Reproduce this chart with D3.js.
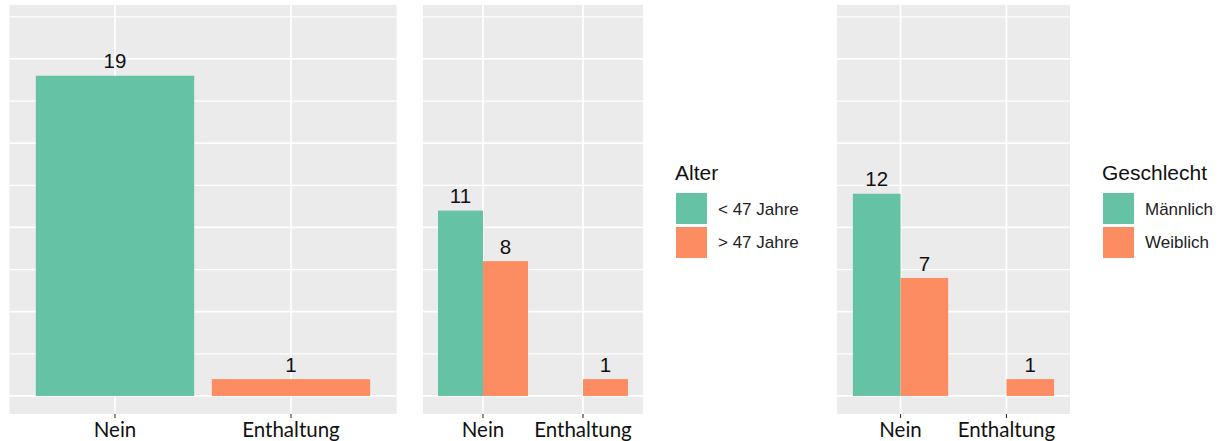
<!DOCTYPE html>
<html>
<head>
<meta charset="utf-8">
<script src="https://cdn.jsdelivr.net/npm/d3@7"></script>
<style>
  html, body { margin: 0; padding: 0; background: #ffffff; }
  svg { display: block; }
</style>
</head>
<body>
<svg id="chart" width="1220" height="441"></svg>
<script>
// ---------- data ----------
const categories = ["Nein", "Enthaltung"];
const totalValues = [19, 1];

const alterTitle = "Alter";
const alterGroups = ["< 47 Jahre", "> 47 Jahre"];
const alterYoung = [11, null];
const alterOld = [8, 1];

const geschlechtTitle = "Geschlecht";
const geschlechtGroups = ["Männlich", "Weiblich"];
const geschlechtMale = [12, null];
const geschlechtFemale = [7, 1];

const majorTicks = [0, 5, 10, 15, 20];
const minorTicks = [2.5, 7.5, 12.5, 17.5, 22.5];

// ---------- style / layout ----------
const green = "#66c2a5", orange = "#fc8d62";
const panelBg = "#ebebeb";
const svg = d3.select("#chart");

const yDomain = [-1.07, 23.2];
const panelTop = 5, panelBottom = 414;

const panels = [
  { x0: 9.4, x1: 396.6 },
  { x0: 423, x1: 643 },
  { x0: 837, x1: 1070 }
];

function drawPanel(p, seriesList, dodge) {
  const x = d3.scalePoint().domain(categories).range([p.x0, p.x1]).padding(0.6);
  const y = d3.scaleLinear().domain(yDomain).range([panelBottom, panelTop]);
  const g = svg.append("g");

  g.append("rect")
    .attr("x", p.x0).attr("y", panelTop)
    .attr("width", p.x1 - p.x0).attr("height", panelBottom - panelTop)
    .attr("fill", panelBg);

  g.selectAll(".minor").data(minorTicks).join("line")
    .attr("x1", p.x0).attr("x2", p.x1)
    .attr("y1", d => y(d)).attr("y2", d => y(d))
    .attr("stroke", "#fff").attr("stroke-width", 1.2);
  g.selectAll(".major").data(majorTicks).join("line")
    .attr("x1", p.x0).attr("x2", p.x1)
    .attr("y1", d => y(d)).attr("y2", d => y(d))
    .attr("stroke", "#fff").attr("stroke-width", 1.7);
  g.selectAll(".vgrid").data(categories).join("line")
    .attr("x1", d => x(d)).attr("x2", d => x(d))
    .attr("y1", panelTop).attr("y2", panelBottom)
    .attr("stroke", "#fff").attr("stroke-width", 1.7);

  const step = x.step();
  const barW = 0.9 * step;
  const nSeries = seriesList.length;
  const subW = dodge ? barW / nSeries : barW;

  seriesList.forEach((s, si) => {
    categories.forEach((c, ci) => {
      const v = s.values[ci];
      if (v == null) return;
      const left = dodge ? x(c) - barW / 2 + si * subW : x(c) - barW / 2;
      const color = s.colors ? s.colors[ci] : s.color;
      g.append("rect")
        .attr("x", left).attr("width", subW)
        .attr("y", y(v)).attr("height", y(0) - y(v))
        .attr("fill", color);
      g.append("text")
        .attr("x", left + subW / 2).attr("y", y(v) - 7.5)
        .attr("text-anchor", "middle")
        .attr("font-family", "Liberation Sans, Arial, sans-serif")
        .attr("font-size", 20.5)
        .attr("fill", "#111")
        .text(v);
    });
  });

  // x axis ticks and labels
  g.selectAll(".tick").data(categories).join("line")
    .attr("x1", d => x(d)).attr("x2", d => x(d))
    .attr("y1", panelBottom).attr("y2", panelBottom + 4)
    .attr("stroke", "#333").attr("stroke-width", 1.1);
  g.selectAll(".tlabel").data(categories).join("text")
    .attr("x", d => x(d)).attr("y", 437)
    .attr("text-anchor", "middle")
    .attr("font-family", "Lato, Carlito, sans-serif")
    .attr("font-size", 20.5)
    .attr("fill", "#111")
    .text(d => d);
}

function drawLegend(lx, title, groups) {
  const g = svg.append("g");
  g.append("text")
    .attr("x", lx).attr("y", 180)
    .attr("font-family", "Liberation Sans, Arial, sans-serif")
    .attr("font-size", 21)
    .attr("fill", "#111")
    .text(title);
  const colors = [green, orange];
  groups.forEach((gr, i) => {
    g.append("rect")
      .attr("x", lx + 1).attr("y", 193 + i * 34)
      .attr("width", 31).attr("height", 31)
      .attr("fill", colors[i]);
    g.append("text")
      .attr("x", lx + 43).attr("y", 215 + i * 33)
      .attr("font-family", "Liberation Sans, Arial, sans-serif")
      .attr("font-size", 17)
      .attr("fill", "#222")
      .text(gr);
  });
}

drawPanel(panels[0], [{ values: totalValues, colors: [green, orange] }], false);
drawPanel(panels[1], [{ values: alterYoung, color: green }, { values: alterOld, color: orange }], true);
drawPanel(panels[2], [{ values: geschlechtMale, color: green }, { values: geschlechtFemale, color: orange }], true);

drawLegend(675, alterTitle, alterGroups);
drawLegend(1102, geschlechtTitle, geschlechtGroups);
</script>
</body>
</html>
